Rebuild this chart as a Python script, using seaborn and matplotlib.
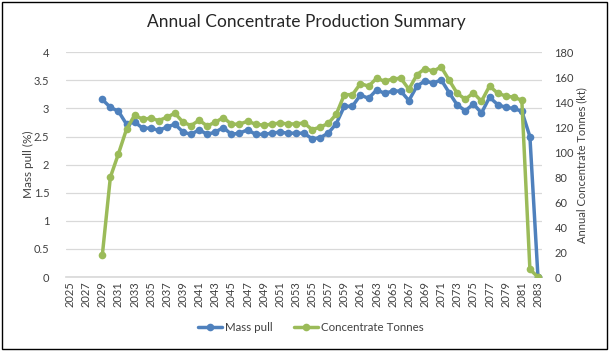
import matplotlib
matplotlib.use("Agg")
import matplotlib.pyplot as plt
import seaborn as sns
import pandas as pd
from matplotlib.patches import Rectangle

years = list(range(2029, 2084))
mass_pull = [3.16, 3.02, 2.95, 2.72, 2.76, 2.65, 2.65, 2.61, 2.67, 2.72,
             2.58, 2.54, 2.62, 2.54, 2.58, 2.66, 2.54, 2.56, 2.62, 2.54,
             2.54, 2.56, 2.58, 2.56, 2.56, 2.56, 2.46, 2.48, 2.56, 2.73,
             3.04, 3.04, 3.24, 3.18, 3.33, 3.27, 3.31, 3.31, 3.14, 3.40,
             3.49, 3.45, 3.51, 3.28, 3.06, 2.96, 3.08, 2.92, 3.20, 3.07,
             3.02, 3.00, 2.95, 2.50, 0.0]
conc_tonnes = [17.4, 80, 98.7, 118.4, 129.6, 126.4, 127.2, 125.3, 128, 131.2,
               124, 121.3, 125.6, 121, 124, 127.7, 122.4, 122.4, 124.8, 122.4,
               121.6, 122.4, 123.4, 122.6, 122.6, 123.4, 118.1, 120, 123, 130.4,
               146.1, 146, 155, 152.8, 159.2, 156.8, 158.7, 159.2, 150.4, 162,
               167, 164.8, 168.3, 157.6, 147, 142.4, 147.5, 140.8, 153, 147.2,
               145, 144, 141.6, 6.1, 0]
tick_years = list(range(2025, 2084, 2))

sns.set_theme(style="white")
plt.rcParams['font.family'] = ['Lato', 'DejaVu Sans']

df = pd.DataFrame({"Year": years, "Mass pull": mass_pull, "Concentrate Tonnes": conc_tonnes})

blue = "#4F81BD"
green = "#9BBB59"

fig = plt.figure(figsize=(6.13, 3.55), dpi=100)
ax = fig.add_axes([66/613, 1-277/355, (542-66)/613, (277-52.3)/355])
ax2 = ax.twinx()

sns.lineplot(data=df, x="Year", y="Mass pull", ax=ax, color=blue, marker="o",
             markersize=5.5, linewidth=2.5, markeredgewidth=0, label="Mass pull", legend=False, zorder=3)
sns.lineplot(data=df, x="Year", y="Concentrate Tonnes", ax=ax2, color=green, marker="o",
             markersize=5.5, linewidth=2.5, markeredgewidth=0, label="Concentrate Tonnes", legend=False, zorder=3)

ax.set_xlim(2024.5, 2083.5)
ax.set_ylim(0, 4)
ax2.set_ylim(0, 180)
ax.set_yticks([0, 0.5, 1, 1.5, 2, 2.5, 3, 3.5, 4])
ax.set_yticklabels(["0", "0.5", "1", "1.5", "2", "2.5", "3", "3.5", "4"])
ax2.set_yticks(list(range(0, 181, 20)))
ax.set_xticks(tick_years)
ax.set_xticklabels([str(y) for y in tick_years], rotation=90)

ax.grid(axis="y", color="#D9D9D9", linewidth=0.9)
ax.set_axisbelow(True)
for a in (ax, ax2):
    for s in a.spines.values():
        s.set_visible(False)
ax.spines["bottom"].set_visible(True)
ax.spines["bottom"].set_color("#D9D9D9")

ax.tick_params(axis="both", labelsize=8, colors="#404040", length=0, pad=3)
ax.tick_params(axis="y", pad=12)
ax2.tick_params(axis="y", labelsize=8, colors="#404040", length=0, pad=9)

ax.set_xlabel("")
ax.set_ylabel("Mass pull (%)", fontsize=8.5, color="#404040", labelpad=0)
ax2.set_ylabel("Annual Concentrate Tonnes (kt)", fontsize=8, color="#404040", labelpad=2)

fig.suptitle("Annual Concentrate Production Summary", fontsize=12.5, color="#262626", y=0.96)

h1, l1 = ax.get_legend_handles_labels()
h2, l2 = ax2.get_legend_handles_labels()
fig.legend(h1 + h2, l1 + l2, loc="center", bbox_to_anchor=(0.507, 0.078), ncol=2,
           frameon=False, fontsize=8.3, handlelength=2.1, columnspacing=1.8,
           handletextpad=0.3, labelcolor="#404040")

fig.patches.append(Rectangle((2/613, 1-349/355), 605/613, 347/355, transform=fig.transFigure,
                             fill=False, edgecolor="black", linewidth=1))

fig.savefig("out.png", dpi=100)
